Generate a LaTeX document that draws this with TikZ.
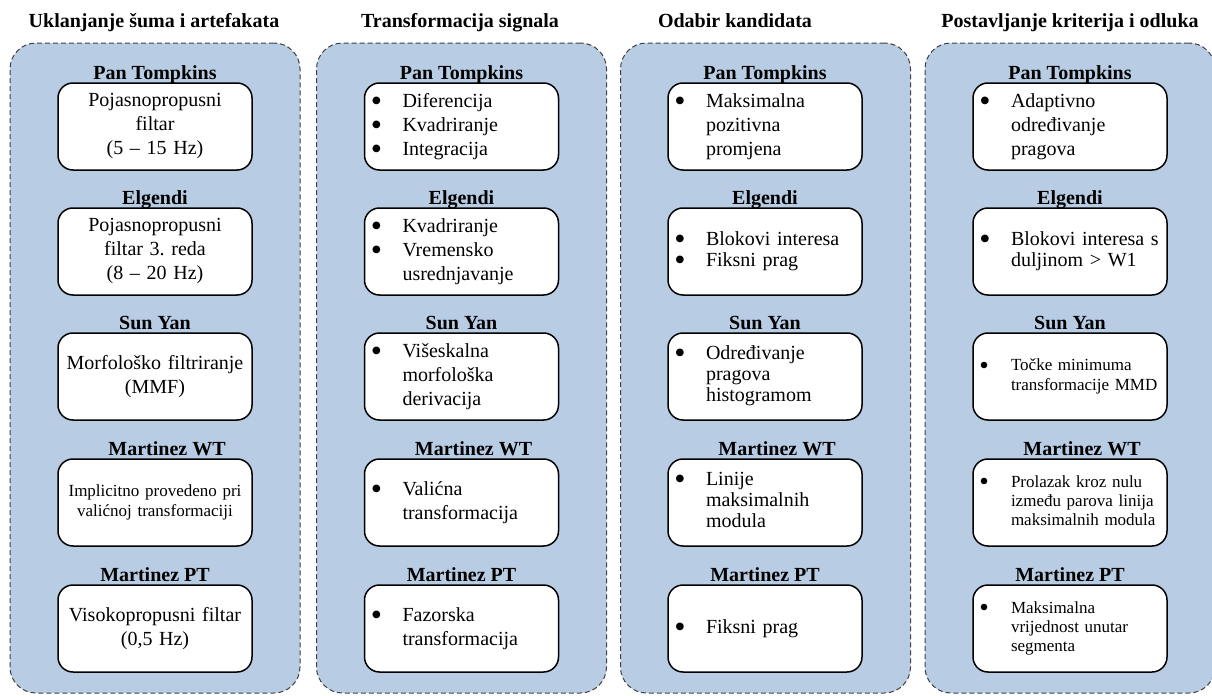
\documentclass[tikz,border=0pt]{standalone}
\usepackage{fontspec}
\setmainfont{Liberation Serif}
\usepackage{graphicx}
\usepackage{tikz}
\definecolor{panelblue}{RGB}{184,204,228}
\definecolor{dashgray}{RGB}{64,64,64}
\frenchspacing
\newcommand{\itm}{\raisebox{-0.21em}[0pt][0pt]{\scalebox{1.6}{\textbullet}} &}
\newcommand{\blist}[1]{\begin{tabular}{@{}p{15.8pt}@{}l@{}}#1\end{tabular}}
\newcommand{\fs}[2]{\fontsize{#1}{#2}\selectfont}

\begin{document}
\begin{tikzpicture}[x=0.5pt, y=-0.5pt,
  panel/.style={draw=dashgray, line width=0.5pt, dash pattern=on 2.5pt off 1.5pt,
    fill=panelblue, rounded corners=13pt, minimum width=145pt, minimum height=325pt},
  heading/.style={font=\bfseries\fs{10}{12}, anchor=base, inner sep=0pt},
  method/.style={font=\bfseries\fs{10}{12}, anchor=base, yshift=1.5pt, inner sep=0pt},
  cbox/.style={draw, line width=0.75pt, fill=white, rounded corners=7.5pt,
    minimum height=43.5pt, text width=95pt, inner xsep=1pt, inner ysep=0pt,
    align=center, font=\fs{10}{12}},
  lbox/.style={cbox, text width=90.6pt, inner xsep=3.2pt, align=left}]
  \useasboundingbox (0,0) rectangle (1212,696);

  % Panels
  \node[panel] (noise) at (155,368) {};
  \node[panel] (transf) at (461.5,368) {};
  \node[panel] (cand) at (765.5,368) {};
  \node[panel] (decis) at (1070,368) {};

  \node[heading] (noiseT) at (154,27) {Uklanjanje šuma i artefakata};
  \node[heading] (transfT) at (460,27) {Transformacija signala};
  \node[heading] (candT) at (735,27) {Odabir kandidata};
  \node[heading] (decisT) at (1070,27) {Postavljanje kriterija i odluka};

  % Uklanjanje suma
  \node[cbox] (n1) at (155,126.5) {Pojasnopropusni\\filtar\\(5 – 15 Hz)};
  \node[cbox] (n2) at (155,251.5) {Pojasnopropusni\\filtar 3. reda\\(8 – 20 Hz)};
  \node[cbox] (n3) at (155,376.5) {Morfološko filtriranje\\(MMF)};
  \node[cbox, font=\fs{8.5}{10}] (n4) at (155,502.5) {Implicitno provedeno pri\\valićnoj transformaciji};
  \node[cbox] (n5) at (155,628.5) {Visokopropusni filtar\\(0,5 Hz)};

  % Transformacija
  \node[lbox] (t1) at (461.5,126.5) {\blist{\itm Diferencija\\ \itm Kvadriranje\\ \itm Integracija}};
  \node[lbox] (t2) at (461.5,251.5) {\blist{\itm Kvadriranje\\ \itm Vremensko\\ & usrednjavanje}};
  \node[lbox] (t3) at (461.5,376.5) {\blist{\itm Višeskalna\\ & morfološka\\ & derivacija}};
  \node[lbox] (t4) at (461.5,502.5) {\blist{\itm Valićna\\ & transformacija}};
  \node[lbox] (t5) at (461.5,628.5) {\blist{\itm Fazorska\\ & transformacija}};

  % Kandidati
  \node[lbox] (c1) at (765,126.5) {\blist{\itm Maksimalna\\ & pozitivna\\ & promjena}};
  \node[lbox, font=\fs{10}{10.5}] (c2) at (765,251.5) {\blist{\itm Blokovi interesa\\ \itm Fiksni prag}};
  \node[lbox, font=\fs{10}{10.5}] (c3) at (765,376.5) {\blist{\itm Određivanje\\ & pragova\\ & histogramom}};
  \node[lbox, font=\fs{10}{10.5}] (c4) at (765,502.5) {\blist{\itm Linije\\ & maksimalnih\\ & modula}};
  \node[lbox] (c5) at (765,628.5) {\blist{\itm Fiksni prag}};

  % Kriteriji i odluka
  \node[lbox] (d1) at (1070,126.5) {\blist{\itm Adaptivno\\ & određivanje\\ & pragova}};
  \node[lbox, font=\fs{10}{10.5}] (d2) at (1070,251.5) {\blist{\itm Blokovi interesa s\\ & duljinom > W1}};
  \node[lbox, font=\fs{8.5}{10}] (d3) at (1070,376.5) {\blist{\itm Točke minimuma\\ & transformacije MMD}};
  \node[lbox, font=\fs{8.5}{9.5}] (d4) at (1070,502.5) {\blist{\itm Prolazak kroz nulu\\ & između parova linija\\ & maksimalnih modula}};
  \node[lbox, font=\fs{8.5}{9.5}] (d5) at (1070,628.5) {\blist{\itm Maksimalna\\ & vrijednost unutar\\ & segmenta}};

  % Method names
  \foreach \col in {n,t,c,d}{
    \node[method] (\col1L) at (\col1.north) {Pan Tompkins};
    \node[method] (\col2L) at (\col2.north) {Elgendi};
    \node[method] (\col3L) at (\col3.north) {Sun Yan};
    \node[method, xshift=6pt] (\col4L) at (\col4.north) {Martinez WT};
    \node[method] (\col5L) at (\col5.north) {Martinez PT};
  }
\end{tikzpicture}
\end{document}
